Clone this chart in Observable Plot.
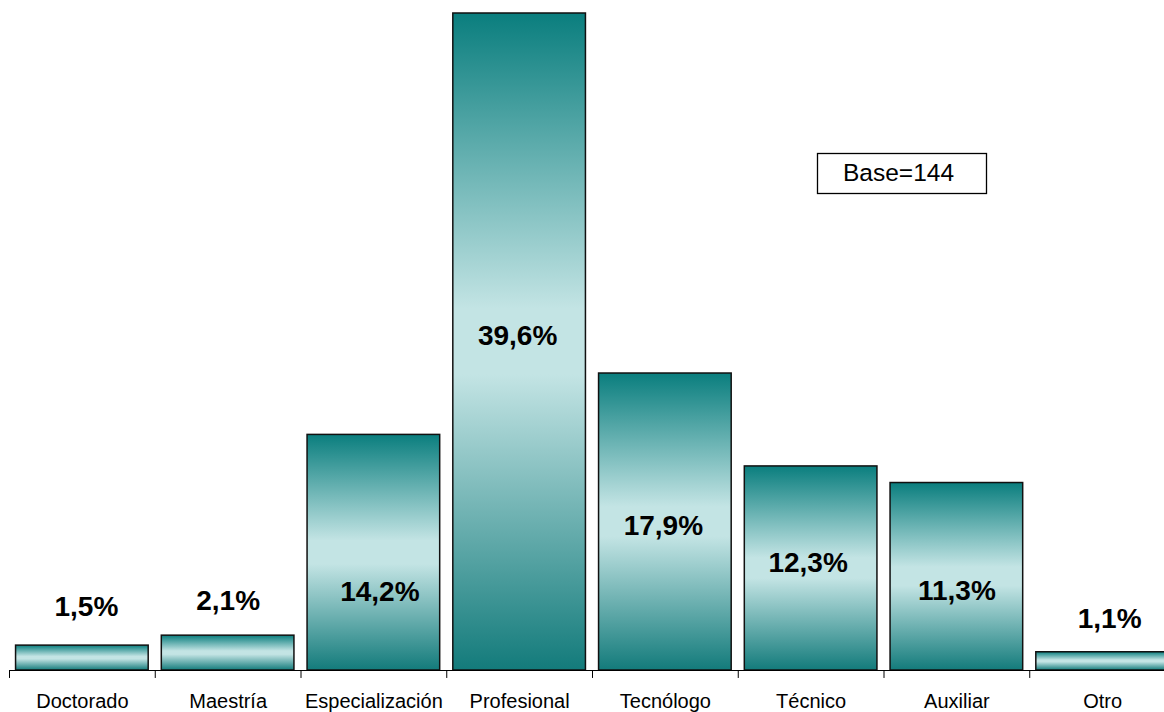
<!DOCTYPE html>
<html>
<head>
<meta charset="utf-8">
<script src="https://cdn.jsdelivr.net/npm/d3@7"></script>
<script src="https://cdn.jsdelivr.net/npm/@observablehq/plot@0.6"></script>
<style>
  html, body { margin: 0; padding: 0; background: #fff; overflow: hidden; }
  #chart svg { display: block; }
</style>
</head>
<body>
<div id="chart"></div>
<script>
// ---- Data ----
const categories = ["Doctorado", "Maestría", "Especialización", "Profesional", "Tecnólogo", "Técnico", "Auxiliar", "Otro"];
const percentages = [1.5, 2.1, 14.2, 39.6, 17.9, 12.3, 11.3, 1.1];
const valueLabels = ["1,5%", "2,1%", "14,2%", "39,6%", "17,9%", "12,3%", "11,3%", "1,1%"];
const baseNote = "Base=144";

const data = categories.map((c, i) => ({cat: c, pct: percentages[i], label: valueLabels[i]}));

// ---- Label placement (in value units / pixel nudges) ----
const labelY = [3.8, 4.16, 4.7, 20.13, 8.68, 6.45, 4.82, 3.1];
const labelDx = [4, 0, 6, -2, -2, -3, 0, 7];

const W = 1164, H = 712;
const xRange = [9, 1175];
const step = (xRange[1] - xRange[0]) / categories.length;

const defs = () => {
  const d = d3.create("svg:defs");
  const g = d.append("linearGradient").attr("id", "barGrad")
    .attr("x1", 0).attr("y1", 0).attr("x2", 0).attr("y2", 1);
  g.append("stop").attr("offset", "0%").attr("stop-color", "#0a7e7e");
  g.append("stop").attr("offset", "45%").attr("stop-color", "#c3e4e4");
  g.append("stop").attr("offset", "55%").attr("stop-color", "#c3e4e4");
  g.append("stop").attr("offset", "100%").attr("stop-color", "#137b7b");
  return d.node();
};

const textMarks = data.map((d, i) => Plot.text([d], {
  x: "cat", y: () => labelY[i], text: "label", dx: labelDx[i],
  fontSize: 28, fontWeight: "bold", fill: "#000",
  textAnchor: "middle", lineAnchor: "middle"
}));

const chart = Plot.plot({
  width: W,
  height: H,
  marginTop: 13,
  marginBottom: 42,
  marginLeft: 9,
  marginRight: 0,
  style: {fontFamily: "'Liberation Sans', Arial, sans-serif", background: "#fff", overflow: "hidden"},
  x: {domain: categories, range: xRange, paddingInner: 0.09, paddingOuter: 0.045, round: false, label: null},
  y: {domain: [0, 39.6], axis: null},
  marks: [
    defs,
    Plot.barY(data, {x: "cat", y: "pct", fill: "url(#barGrad)", stroke: "#111", strokeWidth: 1.5}),
    Plot.ruleY([0], {stroke: "#000", strokeWidth: 1}),
    Plot.ruleX(categories, {x: d => d, y1: 0, y2: -0.48, dx: -step / 2, stroke: "#000", strokeWidth: 1}),
    Plot.axisX({tickSize: 0, tickPadding: 23, fontSize: 20, fill: "#000", label: null}),
    ...textMarks,
    Plot.frame({insetLeft: 808, insetRight: 178, insetTop: 140, insetBottom: 477, stroke: "#000", strokeWidth: 1.3, fill: "#fff"}),
    Plot.text([baseNote], {frameAnchor: "top-left", dx: 898 - 9, dy: 173 - 13, text: d => d,
      fontSize: 24.5, fill: "#000", textAnchor: "middle", lineAnchor: "middle"})
  ]
});

document.getElementById("chart").appendChild(chart);
</script>
</body>
</html>
